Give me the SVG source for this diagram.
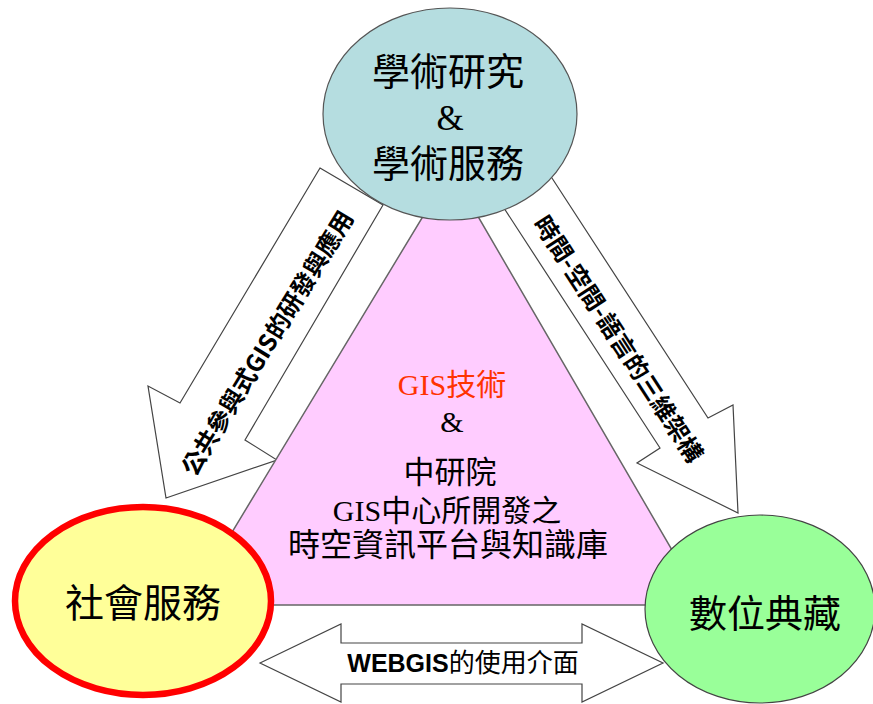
<svg xmlns="http://www.w3.org/2000/svg" width="873" height="704" viewBox="0 0 873 704">
<style>
.arrow{fill:#ffffff;stroke:#444444;stroke-width:1.2;stroke-linejoin:miter}
.cjk{font-family:'Liberation Serif','Noto Sans CJK TC',serif;fill:#000000}
.atext{font-family:'Noto Sans CJK TC','Liberation Sans',sans-serif;font-weight:bold;fill:#000000}
</style>
<rect x="0" y="0" width="873" height="704" fill="#ffffff"/>
<g id="connectors">
  <polygon id="arrow-left" class="arrow" points="320,168 383,205 245,440 277,460 166,498 148,386 180,403"/>
  <polygon id="arrow-right" class="arrow" points="502,205 550,175 708,418 733,405 738,513 637,463 660,448"/>
  <polygon id="arrow-bottom" class="arrow" points="260,663 341,624 341,643 582,643 582,624 663,663 582,702 582,684 341,684 341,702"/>
  <text class="atext" font-size="24" text-anchor="middle" dominant-baseline="central" textLength="305" lengthAdjust="spacingAndGlyphs" transform="translate(266,342) rotate(-58.5)">公共參與式GIS的研發與應用</text>
  <text class="atext" font-size="24" text-anchor="middle" dominant-baseline="central" textLength="288" lengthAdjust="spacingAndGlyphs" transform="translate(620,338) rotate(57)">時間-空間-語言的三維架構</text>
  <text x="463" y="672" text-anchor="middle" font-size="25"><tspan font-family="'Liberation Sans',sans-serif" font-weight="bold">WEBGIS</tspan><tspan font-family="'Noto Sans CJK TC',sans-serif" font-size="26">的使用介面</tspan></text>
</g>
<g id="node-center">
  <polygon points="451,170 704,605 188,605" fill="#FFCCFF" stroke="#666666" stroke-width="1.5"/>
  <text class="cjk" x="452" y="395" text-anchor="middle" font-size="30" style="fill:#FF3300">GIS技術</text>
  <text class="cjk" x="452" y="432" text-anchor="middle" font-size="30">&amp;</text>
  <text class="cjk" x="450" y="483" text-anchor="middle" font-size="31">中研院</text>
  <text class="cjk" x="447" y="521" text-anchor="middle" font-size="30">GIS中心所開發之</text>
  <text class="cjk" x="448" y="556" text-anchor="middle" font-size="32">時空資訊平台與知識庫</text>
</g>
<g id="node-top">
  <ellipse cx="450" cy="114" rx="127" ry="106" fill="#B5DDE0" stroke="#555555" stroke-width="1.2"/>
  <text class="cjk" x="448" y="85" text-anchor="middle" font-size="38">學術研究</text>
  <text class="cjk" x="450" y="130" text-anchor="middle" font-size="35">&amp;</text>
  <text class="cjk" x="448" y="177" text-anchor="middle" font-size="38">學術服務</text>
</g>
<g id="node-left">
  <ellipse cx="143" cy="601" rx="128" ry="94" fill="#FFFF99" stroke="#FF0000" stroke-width="6.5"/>
  <text class="cjk" x="143" y="617" text-anchor="middle" font-size="39">社會服務</text>
</g>
<g id="node-right">
  <ellipse cx="760" cy="609" rx="115" ry="94" fill="#99FF99" stroke="#444444" stroke-width="1.2"/>
  <text class="cjk" x="765" y="627" text-anchor="middle" font-size="38">數位典藏</text>
</g>
</svg>
